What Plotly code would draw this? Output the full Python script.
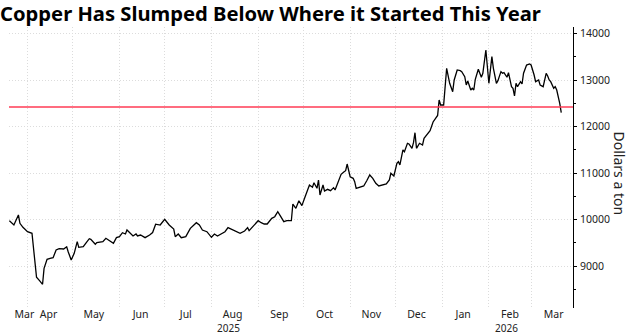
import plotly.graph_objects as go

# ---- data ----
dates = [
    "2025-03-20", "2025-03-23", "2025-03-26", "2025-03-27", "2025-03-29", "2025-04-01",
    "2025-04-04", "2025-04-05", "2025-04-07", "2025-04-09", "2025-04-11", "2025-04-12",
    "2025-04-14", "2025-04-16", "2025-04-18", "2025-04-20", "2025-04-22", "2025-04-25",
    "2025-04-27", "2025-04-28", "2025-04-30",
    "2025-05-02", "2025-05-04", "2025-05-05", "2025-05-08", "2025-05-10", "2025-05-12",
    "2025-05-13", "2025-05-16", "2025-05-17", "2025-05-19", "2025-05-21", "2025-05-23",
    "2025-05-25", "2025-05-28", "2025-05-30",
    "2025-06-01", "2025-06-03", "2025-06-05", "2025-06-06", "2025-06-08", "2025-06-10",
    "2025-06-12", "2025-06-13", "2025-06-15", "2025-06-18", "2025-06-21", "2025-06-23",
    "2025-06-25", "2025-06-28",
    "2025-07-01", "2025-07-04", "2025-07-07", "2025-07-08", "2025-07-10", "2025-07-12",
    "2025-07-15", "2025-07-18", "2025-07-22", "2025-07-24", "2025-07-26", "2025-07-29",
    "2025-08-01", "2025-08-03", "2025-08-05", "2025-08-07", "2025-08-10", "2025-08-12",
    "2025-08-15", "2025-08-18", "2025-08-20", "2025-08-23", "2025-08-25", "2025-08-26",
    "2025-08-29", "2025-08-31",
    "2025-09-01", "2025-09-03", "2025-09-05", "2025-09-07", "2025-09-10", "2025-09-12",
    "2025-09-14", "2025-09-16", "2025-09-18", "2025-09-20", "2025-09-23", "2025-09-24",
    "2025-09-26", "2025-09-28", "2025-09-30",
    "2025-10-02", "2025-10-04", "2025-10-05", "2025-10-07", "2025-10-08", "2025-10-10",
    "2025-10-11", "2025-10-12", "2025-10-14", "2025-10-15", "2025-10-17", "2025-10-19",
    "2025-10-21", "2025-10-22", "2025-10-24", "2025-10-26", "2025-10-28", "2025-10-29",
    "2025-10-30",
    "2025-11-01", "2025-11-03", "2025-11-04", "2025-11-05", "2025-11-08", "2025-11-10",
    "2025-11-12", "2025-11-14", "2025-11-16", "2025-11-18", "2025-11-20", "2025-11-22",
    "2025-11-25", "2025-11-27", "2025-11-28", "2025-11-30",
    "2025-12-02", "2025-12-03", "2025-12-04", "2025-12-06", "2025-12-07", "2025-12-09",
    "2025-12-10", "2025-12-12", "2025-12-13", "2025-12-14", "2025-12-15", "2025-12-17",
    "2025-12-19", "2025-12-20", "2025-12-22", "2025-12-24", "2025-12-26", "2025-12-29",
    "2025-12-30", "2025-12-31",
    "2026-01-02", "2026-01-03", "2026-01-04", "2026-01-06", "2026-01-08", "2026-01-09",
    "2026-01-11", "2026-01-13", "2026-01-14", "2026-01-16", "2026-01-17", "2026-01-18",
    "2026-01-20", "2026-01-21", "2026-01-22", "2026-01-23", "2026-01-24", "2026-01-25",
    "2026-01-27", "2026-01-28", "2026-01-30", "2026-01-31",
    "2026-02-01", "2026-02-03", "2026-02-04", "2026-02-06", "2026-02-07", "2026-02-09",
    "2026-02-10", "2026-02-11", "2026-02-13", "2026-02-14", "2026-02-16", "2026-02-17",
    "2026-02-18", "2026-02-19", "2026-02-20", "2026-02-22", "2026-02-23", "2026-02-24",
    "2026-02-26", "2026-02-28",
    "2026-03-01", "2026-03-03", "2026-03-04", "2026-03-06", "2026-03-07", "2026-03-09",
    "2026-03-11", "2026-03-12", "2026-03-13", "2026-03-14", "2026-03-16", "2026-03-17",
    "2026-03-18", "2026-03-20", "2026-03-21",
]

prices = [
    9975, 9882, 10098, 9919, 9833, 9738,
    9704, 9381, 8757, 8684, 8606, 8950,
    9144, 9166, 9179, 9344, 9372, 9366,
    9415, 9308, 9129,
    9273, 9523, 9402, 9415, 9502, 9588,
    9574, 9467, 9502, 9510, 9523, 9596,
    9560, 9489, 9610,
    9631, 9717, 9689, 9775, 9717, 9646,
    9689, 9646, 9667, 9610, 9667, 9720,
    9900, 9882,
    10005, 9882, 9796, 9631, 9689, 9610,
    9631, 9811, 9932, 9882, 9775, 9738,
    9618, 9689, 9646, 9689, 9738, 9825,
    9775, 9738, 9704, 9753, 9825, 9760,
    9867, 9919,
    9975, 9932, 9904, 9904, 10026, 10061,
    10169, 10061, 9954, 9975, 9975, 10334,
    10242, 10405, 10300,
    10480, 10690, 10743, 10694, 10793, 10672,
    10851, 10528, 10743, 10614, 10650, 10621,
    10686, 10636, 10815, 10973, 11030, 11051,
    11195,
    10922, 10887, 10815, 10672, 10694, 10722,
    10836, 10959, 10887, 10780, 10722, 10743,
    10765, 10851, 10995, 10937,
    11210, 11245, 11174, 11497, 11460, 11641,
    11626, 11533, 11654, 11869, 11533, 11641,
    11604, 11748, 11841, 11912, 12100, 12240,
    12573, 12465,
    12465, 12932, 13255, 12932, 12752, 13004,
    13219, 13204, 13183, 13075, 12896, 12982,
    12788, 12825, 12788, 13019, 13162, 13234,
    13062, 13148, 13649, 13290,
    12932, 13505, 13255, 12932, 12989, 13183,
    13148, 13162, 13062, 13162, 12860, 12825,
    12659, 12932, 12860, 12968, 12917, 13148,
    13326, 13348,
    13326, 13111, 12968, 13004, 12896, 12860,
    13148, 13090, 13004, 12968, 12825, 12860,
    12788, 12502, 12300,
]

start_of_year_price = 12420

month_label_dates = [
    "2025-03-30", "2025-04-15", "2025-05-15", "2025-06-15", "2025-07-15", "2025-08-15",
    "2025-09-15", "2025-10-15", "2025-11-15", "2025-12-15", "2026-01-15", "2026-02-15",
    "2026-03-16",
]
month_labels = [
    "Mar", "Apr", "May", "Jun", "Jul", "Aug", "Sep", "Oct", "Nov", "Dec",
    "Jan", "Feb", "Mar",
]
year_label_dates = ["2025-08-12", "2026-02-13"]
year_labels = ["2025", "2026"]
month_starts = [
    "2025-04-01", "2025-05-01", "2025-06-01", "2025-07-01", "2025-08-01", "2025-09-01",
    "2025-10-01", "2025-11-01", "2025-12-01", "2026-01-01", "2026-02-01", "2026-03-01",
]
y_ticks = [9000, 10000, 11000, 12000, 13000, 14000]
y_tick_labels = ["9000", "10000", "11000", "12000", "13000", "14000"]

FONT = "Noto Sans"
GRID = "#dcdcdc"
TEXT = "#222222"

fig = go.Figure()
fig.add_trace(go.Scatter(
    x=dates, y=prices, mode="lines",
    line=dict(color="#000000", width=1.3),
    hoverinfo="skip", showlegend=False,
))

fig.add_shape(
    type="line", xref="paper", x0=0, x1=1, yref="y",
    y0=start_of_year_price, y1=start_of_year_price,
    line=dict(color="#ff3b55", width=1.5), layer="above",
)

fig.update_layout(
    width=634, height=334,
    margin=dict(l=9, r=61, t=27, b=26, autoexpand=False),
    paper_bgcolor="white", plot_bgcolor="white",
    font=dict(family=FONT, color=TEXT, size=10.5),
    title=dict(
        text="<b>Copper Has Slumped Below Where it Started This Year</b>",
        x=0, xref="container", xanchor="left",
        y=1 - 14 / 334, yref="container", yanchor="middle",
        font=dict(family=FONT, size=20.2, color="#000000"),
        pad=dict(l=0, r=0, t=0, b=0),
    ),
    showlegend=False,
)

fig.update_xaxes(
    type="date", automargin=False,
    range=["2025-03-19 18:00", "2026-03-28 19:00"],
    tickmode="array", tickvals=month_label_dates, ticktext=month_labels,
    showgrid=False, ticks="", showline=False, zeroline=False,
    tickfont=dict(family=FONT, size=10.5, color=TEXT),
    ticklabelstandoff=-2,
    minor=dict(tickmode="array", tickvals=month_starts, showgrid=True,
               gridcolor=GRID, griddash="1px,2px", gridwidth=1, ticks=""),
)

fig.update_yaxes(
    range=[8096, 14144], side="right", automargin=False,
    tickmode="array", tickvals=y_ticks, ticktext=y_tick_labels,
    showgrid=True, gridcolor=GRID, griddash="1px,2px", gridwidth=1,
    showline=True, linecolor="#000000", linewidth=1,
    ticks="outside", ticklen=3, tickcolor="#000000",
    tickfont=dict(family=FONT, size=10.5, color=TEXT),
    ticklabelstandoff=1,
    zeroline=False,
    minor=dict(dtick=500, tick0=0, ticks="outside", ticklen=2, tickcolor="#000000", showgrid=False),
)

for d, lbl in zip(year_label_dates, year_labels):
    fig.add_annotation(
        text=lbl, x=d, xref="x", y=0, yref="paper",
        xanchor="center", yanchor="middle", yshift=-19.5,
        showarrow=False, borderpad=0,
        font=dict(family=FONT, size=10, color=TEXT),
    )

fig.add_annotation(
    text="Dollars a ton", textangle=90,
    xref="paper", x=1, xshift=46, xanchor="center",
    yref="paper", y=0.5, yanchor="middle", yshift=-6,
    showarrow=False,
    font=dict(family=FONT, size=14, color=TEXT),
)

fig.write_html("out.html")
